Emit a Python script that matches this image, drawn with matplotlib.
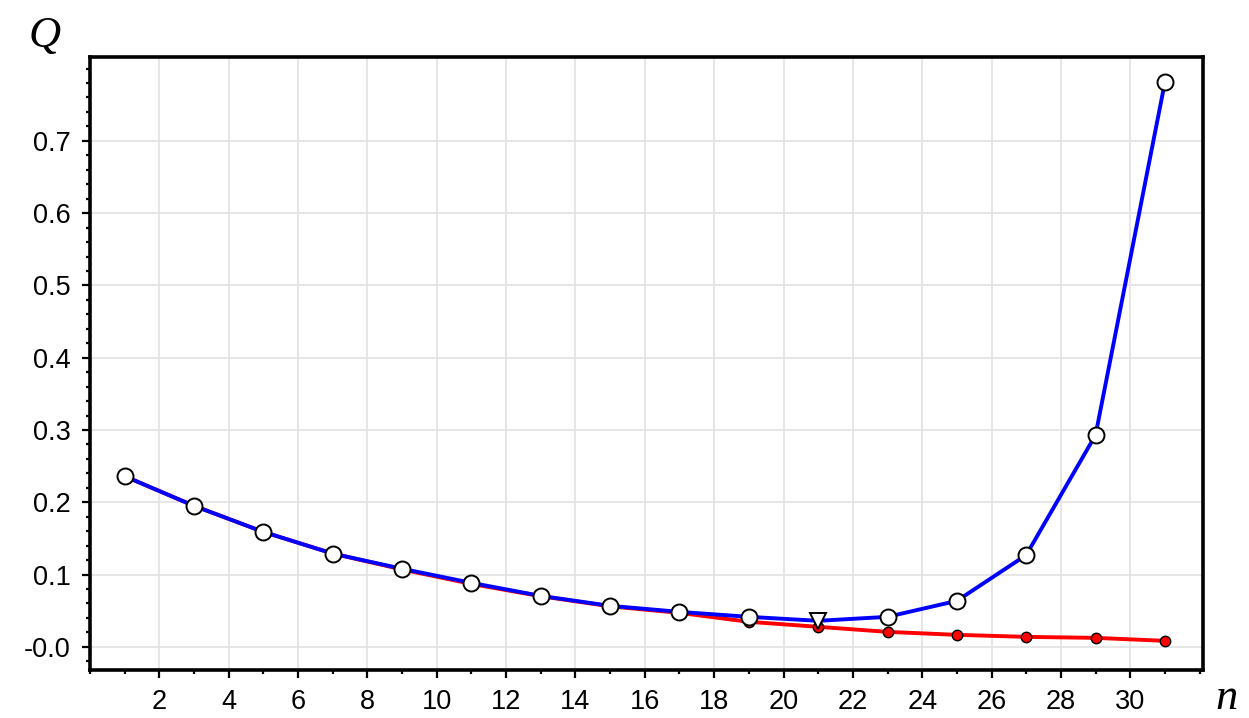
import matplotlib
matplotlib.use("Agg")
import matplotlib.pyplot as plt
from matplotlib.ticker import MultipleLocator, FixedLocator
import numpy as np

n = np.arange(1, 32, 2)
q_blue = [0.236, 0.195, 0.159, 0.129, 0.108, 0.0885, 0.0705, 0.0567, 0.0484,
          0.0415, 0.036, 0.0415, 0.0636, 0.127, 0.293, 0.781]
q_red = [0.236, 0.195, 0.159, 0.129, 0.107, 0.087, 0.070, 0.056, 0.047,
         0.0346, 0.0277, 0.0207, 0.0166, 0.0138, 0.0124, 0.0083]
x_ticks = list(range(2, 31, 2))
y_ticks = [0.0, 0.1, 0.2, 0.3, 0.4, 0.5, 0.6, 0.7]
y_labels = ["-0.0", "0.1", "0.2", "0.3", "0.4", "0.5", "0.6", "0.7"]
i_min = 10  # n = 21, marked with a triangle

plt.rcParams['font.family'] = ['Liberation Sans', 'DejaVu Sans']

fig = plt.figure(figsize=(12.49, 7.18), dpi=100)
ax = fig.add_axes([0.0721, 0.0669, 0.8911, 0.8537])

ax.plot(n, q_red, color='red', lw=2.8, zorder=3)
ax.plot(n, q_red, 'o', color='red', mec='black', mew=1.0, ms=7.5, zorder=4)
ax.plot(n, q_blue, color='blue', lw=2.8, zorder=5)
circ = [i for i in range(len(n)) if i != i_min]
ax.plot(n[circ], [q_blue[i] for i in circ], 'o', mfc='white', mec='black',
        mew=1.4, ms=11.5, zorder=6)
ax.plot(n[i_min], q_blue[i_min], 'v', mfc='white', mec='black', mew=1.4,
        ms=11.5, zorder=6)

ax.set_xlim(0, 32.1)
ax.set_ylim(-0.032, 0.816)
ax.xaxis.set_major_locator(FixedLocator(x_ticks))
ax.xaxis.set_minor_locator(MultipleLocator(1))
ax.set_yticks(y_ticks)
ax.set_yticklabels(y_labels)
ax.yaxis.set_minor_locator(MultipleLocator(0.02))

ax.grid(True, which='major', color='#e4e4e4', lw=1.3)
ax.set_axisbelow(True)
for s in ax.spines.values():
    s.set_linewidth(2.6)
ax.tick_params(which='major', direction='out', length=6, width=1.6,
               labelsize=19.5, pad=8, top=False, right=False)
ax.tick_params(which='minor', direction='out', length=3, width=1.6,
               top=False, right=False)

fig.text(0.036, 0.95, 'Q', fontsize=32, style='italic',
         family=['Liberation Serif'], ha='center', va='center')
fig.text(0.982, 0.012, 'n', fontsize=32, style='italic',
         family=['Liberation Serif'], ha='center', va='baseline')

fig.savefig('out.png', dpi=100)
